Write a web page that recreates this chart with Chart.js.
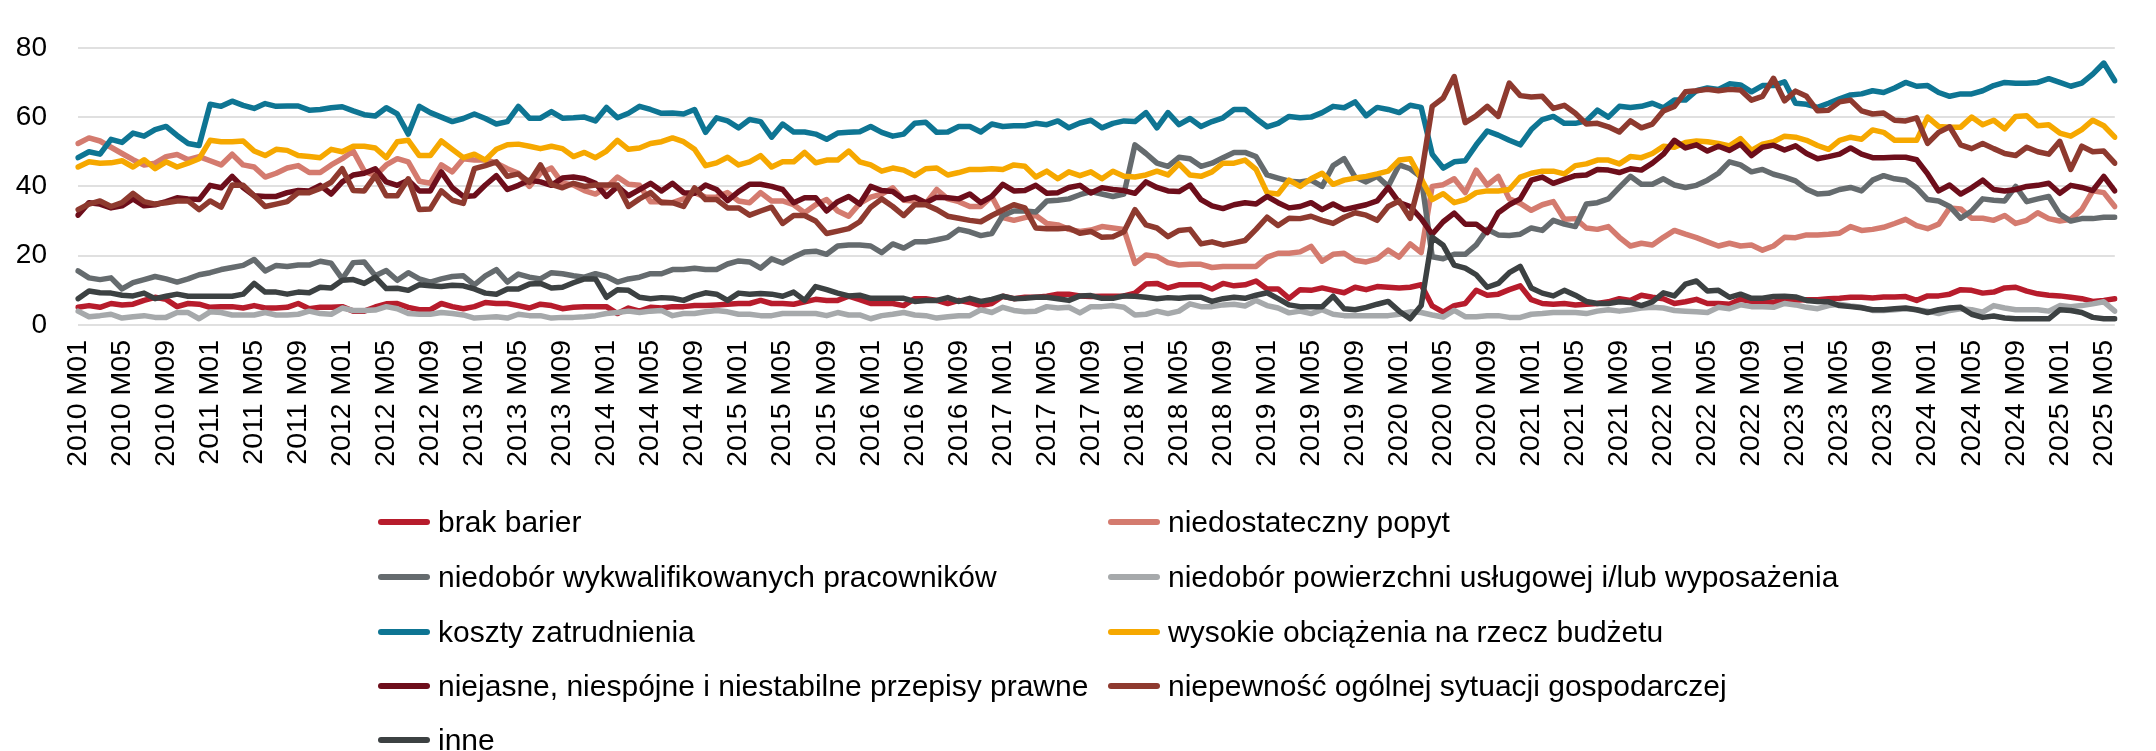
<!DOCTYPE html>
<html>
<head>
<meta charset="utf-8">
<script src="https://cdn.jsdelivr.net/npm/chart.js@4/dist/chart.umd.min.js"></script>
<style>
  body { margin: 0; background: #fff; font-family: "Liberation Sans", Arial, sans-serif; }
  #wrap { position: relative; width: 2156px; height: 751px; }
  #legend { position: absolute; left: 0; top: 0; width: 2156px; height: 751px; }
  .item { position: absolute; display: flex; align-items: center; font-size: 30px; color: #000; white-space: nowrap; }
  .swatch { width: 52px; height: 6px; border-radius: 3px; margin-right: 8px; }
</style>
</head>
<body>
<div id="wrap">
  <canvas id="lineChart" width="2156" height="480"></canvas>
  <div id="legend"></div>
</div>
<script>
// months shown on the category axis: 2010 M01 .. 2025 M06
const years = [2010, 2011, 2012, 2013, 2014, 2015, 2016, 2017, 2018, 2019, 2020, 2021, 2022, 2023, 2024, 2025];
const months = ['M01', 'M02', 'M03', 'M04', 'M05', 'M06', 'M07', 'M08', 'M09', 'M10', 'M11', 'M12'];
const lastMonthCount = 6;

const brakBarier = [
  5.1, 5.6, 5.1, 6.2, 5.8, 6, 7.1, 8, 7.4, 5.3,
  6.2, 6, 5.1, 5.3, 5.3, 4.9, 5.6, 4.9, 4.9, 5.1,
  6.2, 4.7, 5.1, 5.1, 5.3, 4, 4, 5.2, 6.1, 6.2,
  5.1, 4.4, 4.4, 6.2, 5.3, 4.7, 5.3, 6.5, 6.2, 6.2,
  5.6, 4.9, 6, 5.6, 4.7, 5.1, 5.3, 5.3, 5.3, 3.3,
  4.9, 4, 5.1, 4.9, 5.3, 5.3, 5.6, 5.6, 5.8, 6,
  6.2, 6.2, 7.1, 6.2, 6.2, 6, 6.7, 7.4, 7.1, 7.1,
  8.3, 7.3, 6.2, 6.2, 6.2, 5.6, 7.6, 7.6, 7.1, 6.2,
  7.1, 6.5, 5.6, 6.2, 8.3, 7.6, 8, 8, 8.3, 8.9,
  8.9, 8.4, 8.2, 8.3, 8.3, 8.4, 9.2, 11.8, 12, 10.7,
  11.6, 11.6, 11.6, 10.4, 12, 11.3, 11.6, 12.7, 10.4, 10.4,
  7.7, 10.2, 10, 10.7, 10, 9.3, 10.9, 10.2, 11.1, 10.9,
  10.7, 10.9, 11.6, 5.5, 3.7, 5.6, 6.2, 10, 8.6, 8.9,
  10.2, 11.3, 7.3, 6.2, 6, 6.2, 5.8, 6, 6.2, 6.7,
  7.6, 7.1, 8.6, 8, 7.6, 6.2, 6.7, 7.4, 6.2, 6.2,
  6, 7.4, 6.8, 6.8, 6.6, 7.2, 7.2, 7.3, 7.3, 7.6,
  7.7, 8, 8, 7.8, 8.1, 8.1, 8.2, 7.1, 8.4, 8.4,
  8.9, 10.2, 10, 9.2, 9.5, 10.7, 10.9, 9.8, 9, 8.6,
  8.4, 8, 7.6, 6.8, 7.1, 7.6
];

const niedostatecznyPopyt = [
  52.4, 54, 53.1, 51.3, 49.5, 47.7, 46.2, 46.7, 48.6, 49.2,
  47.7, 48.6, 47.4, 46.2, 49.3, 46.2, 45.6, 42.7, 43.8, 45.3,
  46, 44, 44, 46.2, 48, 50.2, 44.4, 43.1, 46.2, 48,
  47.1, 41.5, 40.9, 46.2, 44.2, 48, 47.6, 47.7, 46.7, 45.1,
  43.8, 40, 43.8, 45.3, 40.9, 40.4, 38.8, 37.8, 39.7, 42.7,
  40.6, 40.3, 35.6, 35.6, 35.3, 36.4, 38.2, 36.9, 36.9, 38.2,
  35.8, 35.3, 38.2, 35.8, 35.8, 34.7, 32.4, 34.7, 36.2, 32.9,
  31.4, 35.1, 36.9, 37.8, 39.6, 36, 35.8, 35.1, 39.1, 36.4,
  35.6, 34.2, 34.2, 37.1, 31, 30.2, 31, 31.6, 29.3, 28.9,
  27.6, 27, 27.4, 28.4, 28, 27.6, 17.8, 20.2, 19.8, 18,
  17.3, 17.5, 17.5, 16.6, 16.9, 16.9, 16.9, 16.9, 19.6, 20.7,
  20.7, 21.1, 22.7, 18.4, 20.4, 20.7, 18.7, 18.2, 19.1, 21.6,
  19.6, 23.4, 20.9, 40, 40.5, 42.2, 38.2, 44.7, 40.4, 42.9,
  36.4, 35.1, 33.1, 34.7, 35.6, 30.5, 30.7, 28, 27.6, 28.4,
  25.3, 22.8, 23.6, 23.1, 25.3, 27.3, 26.2, 25.2, 24, 22.8,
  23.6, 22.8, 23.1, 21.6, 22.8, 25.3, 25.2, 26, 26, 26.2,
  26.5, 28.4, 27.3, 27.6, 28.2, 29.3, 30.5, 28.7, 27.8, 29.1,
  33.8, 33.5, 30.8, 30.8, 30.2, 31.6, 29.3, 30.2, 32.4, 30.7,
  30, 30.5, 33.3, 38.7, 38.2, 34.2
];

const niedoborPracownikow = [
  15.6, 13.6, 13.1, 13.6, 10.4, 12.2, 13.1, 14, 13.3, 12.4,
  13.3, 14.5, 15.1, 16, 16.6, 17.2, 18.9, 15.6, 17.2, 16.9,
  17.3, 17.3, 18.4, 17.8, 13.3, 18, 18.2, 14.2, 15.7, 12.9,
  15.1, 13.3, 12.4, 13.3, 14, 14.2, 11.6, 14.2, 16, 12.4,
  14.7, 13.8, 13.3, 15.1, 14.8, 14.2, 13.8, 14.8, 14, 12.4,
  13.3, 13.8, 14.8, 14.8, 16, 16, 16.4, 16, 16, 17.6,
  18.5, 18.2, 16.4, 19.1, 17.9, 19.6, 21.1, 21.3, 20.4, 22.8,
  23.1, 23.1, 22.8, 20.9, 23.4, 22.2, 24, 24, 24.6, 25.3,
  27.6, 26.9, 25.8, 26.4, 31.6, 32.9, 32.9, 32.6, 35.8, 36,
  36.4, 37.6, 38.5, 37.8, 37.1, 37.8, 52, 49.5, 46.7, 45.8,
  48.4, 48, 45.8, 46.7, 48.3, 49.8, 49.8, 48.6, 43.3, 42.4,
  41.5, 41.3, 41.8, 40, 46, 48, 42.7, 41.3, 42.9, 40,
  46.2, 45.1, 42.7, 19.7, 19.1, 20.4, 20.4, 23.1, 27.6, 26,
  25.8, 26.2, 28, 27.3, 30.2, 29.1, 28.4, 34.9, 35.3, 36.4,
  39.7, 42.9, 40.6, 40.6, 42.2, 40.4, 39.7, 40.3, 41.8, 43.8,
  47.1, 46.2, 44.2, 44.9, 43.5, 42.7, 41.6, 39.2, 37.8, 38,
  39.1, 39.7, 38.7, 41.8, 43.1, 42.2, 41.8, 39.6, 36.2, 35.8,
  34.2, 30.8, 32.9, 36.4, 36, 35.8, 40, 35.6, 36.4, 37.1,
  32, 30, 30.7, 30.7, 31.1, 31.1
];

const niedoborPowierzchni = [
  4, 2.4, 2.7, 3.1, 2, 2.4, 2.7, 2.2, 2.2, 3.6,
  3.6, 1.8, 3.8, 3.6, 2.9, 2.9, 2.9, 3.6, 2.9, 2.9,
  3.1, 4, 3.3, 3.1, 4.9, 4.2, 4.2, 4.3, 5.3, 4.7,
  3.3, 3.1, 3.1, 3.6, 3.3, 2.9, 2, 2.2, 2.4, 2,
  3.1, 2.7, 2.7, 2, 2.2, 2.2, 2.4, 2.7, 3.3, 3.6,
  4, 3.6, 4, 4.2, 2.7, 3.3, 3.3, 3.8, 4.2, 3.8,
  3.1, 3.1, 2.7, 2.7, 3.3, 3.3, 3.3, 3.3, 2.7, 3.6,
  2.9, 2.9, 1.8, 2.7, 3.1, 3.6, 2.9, 2.7, 2, 2.4,
  2.7, 2.7, 4.4, 3.6, 5.1, 4.2, 3.8, 4, 5.3, 4.9,
  5.1, 3.5, 5.3, 5.3, 5.6, 5.1, 2.9, 3.1, 4, 3.3,
  4, 6.1, 5.3, 5.3, 5.8, 6, 5.5, 7.1, 5.6, 4.9,
  3.5, 4, 3.3, 4.4, 3.1, 2.7, 2.7, 2.7, 2.7, 2.7,
  3.1, 3.8, 3.6, 2.9, 2.3, 4.2, 2.4, 2.4, 2.7, 2.7,
  2.2, 2.2, 3.1, 3.3, 3.6, 3.6, 3.6, 3.3, 4, 4.4,
  4, 4.4, 4.9, 5.1, 4.9, 4.2, 4, 3.8, 3.6, 5.1,
  4.7, 5.8, 5.3, 5.3, 5.1, 6.2, 5.8, 5.1, 4.7, 5.6,
  6, 5.5, 5.1, 4.2, 4.2, 4.4, 4.7, 4.4, 4, 3.3,
  4.2, 4.7, 4.4, 3.7, 5.6, 4.9, 4.4, 4.4, 4.4, 4,
  5.6, 5.3, 5.6, 6.1, 6.7, 4
];

const kosztyZatrudnienia = [
  48.3, 50, 49.3, 53.6, 52.7, 55.4, 54.5, 56.4, 57.3, 54.7,
  52.4, 51.8, 63.7, 63.1, 64.6, 63.4, 62.5, 63.9, 63.1, 63.2,
  63.2, 62, 62.2, 62.7, 63, 61.8, 60.7, 60.3, 62.7, 60.9,
  55.1, 63.1, 61.3, 60, 58.7, 59.6, 60.9, 59.6, 58, 58.7,
  63.1, 59.7, 59.7, 61.6, 59.7, 59.8, 60, 58.9, 62.8, 59.8,
  61.1, 63.1, 62.2, 61.1, 61.2, 60.9, 62.2, 55.6, 59.8, 58.9,
  56.9, 59.3, 58.7, 54.2, 58, 55.7, 55.7, 55.1, 53.6, 55.4,
  55.6, 55.8, 57.3, 55.6, 54.5, 55.1, 58.2, 58.5, 55.6, 55.7,
  57.3, 57.3, 55.7, 58, 57.3, 57.5, 57.5, 58.2, 57.8, 58.9,
  56.9, 58.3, 59.1, 56.9, 58.2, 58.9, 58.7, 61.3, 56.9, 61.3,
  57.8, 59.6, 57.3, 58.7, 59.8, 62.2, 62.2, 59.6, 57.2, 58.2,
  60.2, 59.8, 60, 61.3, 63.1, 62.7, 64.4, 60.4, 62.8, 62.2,
  61.3, 63.4, 62.8, 49.3, 45.3, 47.1, 47.4, 52, 56, 54.8,
  53.3, 52, 56.4, 59.3, 60.2, 58.2, 58.2, 58.9, 62, 60,
  63.1, 62.8, 63.1, 64, 62.7, 64.9, 64.9, 67.6, 68.4, 68,
  69.6, 69.3, 67.3, 69.1, 69.1, 70.2, 64, 63.7, 62.8, 64,
  65.3, 66.4, 66.7, 67.6, 67.1, 68.4, 70, 68.9, 69.1, 67.1,
  66, 66.7, 66.7, 67.6, 69.1, 70, 69.8, 69.8, 70, 71.1,
  70, 68.9, 69.8, 72.4, 75.6, 70.5
];

const wysokieObciazenia = [
  45.6, 47.1, 46.7, 46.8, 47.4, 45.6, 47.7, 45.1, 47.1, 45.6,
  46.7, 48, 53.3, 52.9, 52.9, 53.1, 50.2, 48.9, 50.7, 50.4,
  48.9, 48.6, 48.3, 50.7, 50, 51.6, 51.6, 51.1, 48.3, 52.9,
  53.3, 48.9, 48.9, 53.1, 50.7, 48.3, 49.3, 47.6, 50.7, 52,
  52.2, 51.6, 50.9, 51.6, 50.9, 48.6, 49.8, 48.3, 50.2, 53.3,
  50.7, 51.1, 52.4, 52.9, 54, 52.9, 50.7, 46, 46.8, 48.4,
  46.2, 47.1, 48.9, 45.6, 47.1, 47.1, 49.8, 46.8, 47.6, 47.6,
  50.2, 47.1, 46.2, 44.4, 45.3, 44.7, 43.1, 45.1, 45.3, 43.3,
  44, 44.9, 44.9, 45.1, 44.9, 46.2, 45.8, 42.7, 44.4, 42.2,
  44.2, 43.1, 44.2, 42.2, 44.4, 42.9, 42.7, 43.3, 44.4, 43.3,
  46.5, 43.3, 42.9, 44.2, 46.7, 46.7, 47.6, 44.9, 38.2, 37.8,
  41.8, 40, 42.2, 43.8, 40.6, 41.8, 42.4, 42.9, 43.6, 44.4,
  47.6, 48, 42.2, 36.2, 37.9, 35.3, 36.2, 38.2, 38.7, 38.7,
  39.1, 42.7, 43.8, 44.4, 44.4, 43.6, 46, 46.5, 47.6, 47.6,
  46.5, 48.6, 48.3, 49.5, 51.6, 51.3, 52.7, 53.1, 52.9, 52.4,
  51.7, 53.8, 50.4, 52.2, 52.9, 54.5, 54.2, 53.3, 51.8, 50.7,
  53.3, 54.2, 53.6, 56.3, 55.6, 53.3, 53.3, 53.3, 60, 57.3,
  57.1, 57.1, 60, 57.8, 59.1, 56.6, 60.2, 60.4, 57.5, 57.8,
  55.4, 54.5, 56.4, 59.1, 57.5, 54.2
];

const niejasnePrzepisy = [
  31.7, 35.3, 34.9, 33.8, 34.4, 36.4, 34.4, 34.7, 35.6, 36.7,
  36.4, 36.2, 40.3, 39.6, 42.9, 39.7, 37.3, 37.1, 37.1, 38.2,
  38.8, 38.7, 40.3, 37.8, 41.3, 43.3, 43.8, 45.1, 41.3, 40.3,
  41.8, 38.7, 38.7, 44.2, 39.6, 37.1, 37.3, 40.4, 43.1, 39.1,
  40.3, 41.8, 41.3, 40.3, 42.4, 42.7, 42.2, 40.9, 37.1, 40,
  37.3, 39.1, 40.9, 38.7, 40.9, 38.2, 38, 40.4, 39.1, 35.9,
  38.5, 40.6, 40.6, 40, 39.1, 35.3, 36.7, 36.7, 32.9, 35.6,
  37.1, 34.9, 40, 38.8, 38.5, 36.2, 36.9, 35.3, 36.9, 36.7,
  36.4, 37.8, 35.3, 37.1, 40.6, 38.7, 38.8, 40.3, 38, 38.2,
  39.7, 40.3, 38.1, 39.6, 39.1, 38.8, 38, 41.3, 39.7, 38.7,
  38.5, 40.4, 36.2, 34.4, 33.6, 34.7, 35.3, 34.9, 37.1, 35.3,
  33.8, 34.2, 35.3, 33.3, 34.9, 33.3, 34, 34.7, 35.8, 39.7,
  35.3, 34.2, 30.7, 26.2, 29.8, 32.3, 29.1, 29.1, 26.7, 32.4,
  34.7, 36.4, 41.8, 42.7, 40.9, 42, 43.1, 43.3, 44.9, 44.7,
  44, 45.1, 44.7, 46.7, 49.3, 53.3, 51.1, 52, 50.2, 51.6,
  50.4, 52.2, 48.9, 51.3, 51.9, 50.5, 51.7, 49.5, 48, 48.6,
  49.3, 51.1, 49.3, 48.3, 48.3, 48.4, 48.4, 47.7, 43.6, 38.7,
  40.4, 37.8, 39.6, 41.8, 39.1, 38.7, 39.1, 40, 40.3, 40.9,
  38, 40.3, 39.7, 38.8, 42.9, 38.7
];

const niepewnoscSytuacji = [
  33.3, 34.9, 35.8, 34.2, 35.3, 38, 35.6, 34.9, 35.3, 35.8,
  35.8, 33.3, 35.8, 34, 40.4, 40.3, 37.3, 34.2, 34.9, 35.6,
  38.2, 38.2, 39.4, 41.2, 45.1, 38.8, 38.7, 43.1, 37.3, 37.3,
  42.2, 33.3, 33.5, 38.7, 36, 35.1, 45.1, 46, 47.1, 42.9,
  43.6, 41.2, 46.2, 40.6, 39.6, 40.9, 40, 40.4, 40.4, 40.4,
  34.2, 36.4, 38.2, 35.3, 35.3, 34.2, 39.6, 36.2, 36.2, 33.8,
  33.8, 31.7, 32.9, 34, 29.3, 31.6, 31.6, 30, 26.4, 27.1,
  27.8, 29.8, 34, 36.4, 34.2, 31.6, 34.7, 34.7, 33.3, 31.4,
  30.8, 30.2, 29.8, 31.6, 33.2, 34.7, 33.8, 28, 27.8, 27.8,
  28, 26.5, 27, 25.3, 25.5, 26.9, 33.3, 28.9, 28, 25.5,
  27.3, 27.6, 23.4, 24, 23.1, 23.7, 24.4, 27.6, 31.1, 28.7,
  30.8, 30.7, 31.4, 30.2, 29.3, 31.1, 32.4, 31.7, 30.2, 34.2,
  35.8, 30.8, 43, 63.1, 65.5, 71.7, 58.4, 60.4, 63.1, 60.2,
  69.8, 66.2, 65.8, 66, 62.5, 63.4, 61.1, 58, 58.2, 57.2,
  55.7, 58.9, 56.9, 58, 61.8, 63.1, 67.3, 67.6, 68, 67.6,
  68, 67.8, 64.9, 66, 71.2, 64.7, 67.5, 66, 61.8, 62,
  64.4, 64.9, 61.8, 60.9, 61.2, 59.1, 58.9, 59.8, 52.4, 55.6,
  57.2, 52, 50.9, 52.4, 50.9, 49.5, 48.9, 51.3, 50, 49.3,
  53, 44.9, 51.6, 50, 50.2, 46.7
];

const inne = [
  7.6, 9.8, 9.3, 9.2, 8.6, 8.4, 9.2, 7.6, 8.3, 8.9,
  8.3, 8.3, 8.3, 8.3, 8.3, 8.9, 12, 9.5, 9.5, 8.9,
  9.5, 9.3, 10.9, 10.7, 12.9, 13.1, 12, 13.8, 10.5, 10.6,
  10, 11.6, 11.3, 11.1, 11.5, 11.3, 10.4, 9.2, 8.9, 10.4,
  10.4, 11.8, 12, 10.7, 10.9, 12.2, 13.3, 13.3, 8, 10.2,
  10, 8, 7.6, 7.9, 7.7, 7.1, 8.4, 9.3, 8.9, 7.1,
  9.2, 8.9, 9.1, 8.9, 8.3, 9.5, 7.1, 11.1, 10.2, 9.2,
  8.4, 8.6, 7.7, 7.7, 7.7, 7.7, 6.8, 7.1, 7.1, 7.9,
  6.8, 7.7, 6.8, 7.4, 8.3, 7.6, 7.7, 8, 8, 7.6,
  7.1, 8.4, 8.5, 7.7, 7.7, 8.4, 8.3, 8, 7.6, 7.9,
  7.7, 8, 8, 6.8, 7.6, 8, 7.7, 8.6, 9.3, 7.6,
  5.8, 5.3, 5.3, 5.3, 8.3, 4.7, 4.4, 5.1, 6, 6.8,
  4, 1.8, 5.6, 25.3, 23, 17.3, 16.4, 14.5, 10.9, 12,
  15.1, 16.9, 10.7, 9.2, 8.4, 10, 8.6, 6.8, 6.2, 6.2,
  6.7, 6.5, 5.6, 6.7, 9.3, 8.4, 11.8, 12.7, 9.8, 10,
  8, 8.9, 7.7, 7.7, 8.2, 8.3, 8.1, 7.1, 6.8, 6.7,
  5.6, 5.3, 5, 4.4, 4.4, 4.7, 4.9, 4.4, 3.6, 4.4,
  4.9, 5.1, 3.1, 2.2, 2.6, 2, 1.8, 1.8, 1.8, 1.8,
  4.4, 4.2, 3.6, 2.2, 1.8, 1.8
];

const yTicks = [0, 10, 20, 30, 40, 50, 60, 70, 80];

var categories = [];
years.forEach(function(y) {
    var count = (y === years[years.length - 1]) ? lastMonthCount : months.length;
    for (var m = 0; m < count; m++) {
        categories.push(y + ' ' + months[m]);
    }
});

var series = [
    { label: 'brak barier', data: brakBarier, color: '#B71C2C' },
    { label: 'niedostateczny popyt', data: niedostatecznyPopyt, color: '#D47B6F' },
    { label: 'niedobór wykwalifikowanych pracowników', data: niedoborPracownikow, color: '#656B6E' },
    { label: 'niedobór powierzchni usługowej i/lub wyposażenia', data: niedoborPowierzchni, color: '#A6A9AB' },
    { label: 'koszty zatrudnienia', data: kosztyZatrudnienia, color: '#0E7593' },
    { label: 'wysokie obciążenia na rzecz budżetu', data: wysokieObciazenia, color: '#F6A800' },
    { label: 'niejasne, niespójne i niestabilne przepisy prawne', data: niejasnePrzepisy, color: '#6D0E1B' },
    { label: 'niepewność ogólnej sytuacji gospodarczej', data: niepewnoscSytuacji, color: '#8E3A2F' },
    { label: 'inne', data: inne, color: '#3C4142' }
];

var ctx = document.getElementById('lineChart').getContext('2d');
var lineChart = new Chart(ctx, {
    type: 'line',
    data: {
        labels: categories,
        datasets: series.map(function(s, i) {
            return {
                label: s.label,
                data: s.data,
                borderColor: s.color,
                backgroundColor: s.color,
                borderWidth: 5.5,
                pointRadius: 0,
                tension: 0,
                borderJoinStyle: 'round',
                borderCapStyle: 'round',
                order: series.length - i
            };
        })
    },
    options: {
        responsive: false,
        animation: false,
        devicePixelRatio: 1,
        layout: { padding: { top: 25, right: 0, left: 0, bottom: 0 } },
        plugins: {
            legend: { display: false },
            tooltip: { enabled: false }
        },
        scales: {
            x: {
                offset: false,
                grid: { display: false },
                border: { display: false },
                ticks: {
                    autoSkip: false,
                    maxRotation: 90,
                    minRotation: 90,
                    padding: 7,
                    color: '#000',
                    font: { family: 'Liberation Sans', size: 28.5 },
                    callback: function(value, index) {
                        return index % 4 === 0 ? this.getLabelForValue(value) : '';
                    }
                },
                afterFit: function(scale) { scale.height = 155; }
            },
            y: {
                min: 0,
                max: 80,
                afterBuildTicks: function(scale) {
                    scale.ticks = yTicks.map(function(v) { return { value: v }; });
                },
                grid: { color: '#e0e0e0', lineWidth: 2, drawTicks: false },
                border: { display: false },
                ticks: {
                    padding: 31,
                    color: '#000',
                    font: { family: 'Liberation Sans', size: 28 }
                },
                afterFit: function(scale) { scale.width = 78; }
            }
        }
    }
});

// legend in two columns, like the original
var legendBox = document.getElementById('legend');
var colX = [378, 1108];
var rowY = [522, 577, 632, 686, 740];
series.forEach(function(s, i) {
    var item = document.createElement('div');
    item.className = 'item';
    item.style.left = colX[i % 2] + 'px';
    item.style.top = (rowY[Math.floor(i / 2)] - 20) + 'px';
    item.style.height = '40px';
    var sw = document.createElement('span');
    sw.className = 'swatch';
    sw.style.background = s.color;
    var txt = document.createElement('span');
    txt.textContent = s.label;
    item.appendChild(sw);
    item.appendChild(txt);
    legendBox.appendChild(item);
});
</script>
</body>
</html>
